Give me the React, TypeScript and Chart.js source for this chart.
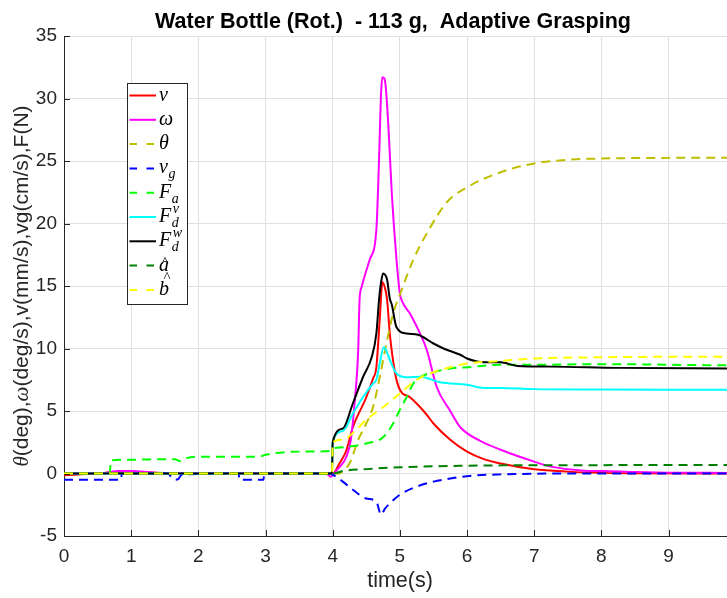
import React, { useEffect, useRef } from 'react';
import { Chart, registerables } from 'chart.js';

Chart.register(...registerables);

// ---------------- data ----------------
const TITLE = 'Water Bottle (Rot.)  - 113 g,  Adaptive Grasping';
const X_LABEL = 'time(s)';
const X_MIN = 0;
const X_MAX = 9.87;
const Y_MIN = -5;
const Y_MAX = 35;
const X_STEP = 1;
const Y_STEP = 5;

const SERIES_NAMES = ['v', 'ω', 'θ', 'v_g', 'F_a', 'F_d^v', 'F_d^w', 'a\u0302', 'b\u0302'];

const tV = [0, 0.3, 0.6, 0.9, 1.2, 1.5, 3.95, 4.0, 4.1, 4.2, 4.3, 4.5, 4.6, 4.65, 4.7, 4.74, 4.78, 4.81, 4.85, 4.93, 5.0, 5.15, 5.25, 5.4, 5.5, 5.75, 6.0, 6.25, 6.5, 7.0, 7.5, 8.0, 8.5, 9.87];
const yV = [-0.15, -0.05, 0.05, 0.15, 0.1, 0.05, 0.0, 0.0, 0.8, 1.8, 3.7, 6.1, 7.6, 8.5, 12.3, 15.3, 14.8, 13.9, 11.2, 8.0, 6.7, 6.1, 5.6, 4.7, 4.0, 2.7, 1.75, 1.15, 0.8, 0.34, 0.15, 0.05, 0.02, 0.0];

const tW = [0, 0.6, 0.8, 1.0, 1.2, 1.4, 3.9, 3.97, 4.05, 4.1, 4.2, 4.27, 4.33, 4.38, 4.40, 4.43, 4.55, 4.65, 4.69, 4.72, 4.74, 4.77, 4.79, 4.83, 4.88, 4.95, 5.0, 5.05, 5.15, 5.2, 5.3, 5.4, 5.55, 5.75, 5.9, 6.2, 6.5, 7.0, 7.25, 7.75, 8.0, 8.5, 9.0, 9.87];
const yW = [0, 0.05, 0.2, 0.2, 0.15, 0.05, 0, -0.25, 0.2, 0.5, 1.3, 2.7, 5.9, 9.9, 13.9, 14.9, 17.1, 19.5, 25.1, 30.4, 31.7, 31.6, 30.9, 27.7, 22.4, 17.1, 14.4, 13.6, 12.8, 12.3, 11.2, 9.9, 6.9, 5.0, 3.7, 2.6, 1.9, 0.95, 0.55, 0.22, 0.2, 0.12, 0.07, 0.05];

const tTheta = [0, 4.1, 4.15, 4.25, 4.38, 4.5, 4.6, 4.7, 4.8, 4.9, 5.0, 5.2, 5.4, 5.7, 6.0, 6.5, 7.0, 7.5, 8.0, 9.0, 9.87];
const yTheta = [0, 0, 0.2, 0.8, 2.7, 4.0, 5.3, 7.7, 10.4, 12.8, 14.3, 17.1, 19.2, 21.7, 22.9, 24.1, 24.8, 25.1, 25.2, 25.25, 25.27];

const tVg = [0, 0.85, 0.86, 1.55, 1.6, 1.65, 1.7, 1.75, 2.6, 2.61, 2.97, 2.98, 3.95, 4.0, 4.15, 4.3, 4.5, 4.65, 4.72, 4.78, 4.85, 5.0, 5.25, 5.5, 5.75, 6.1, 6.5, 7.0, 7.5, 9.87];
const yVg = [-0.5, -0.5, 0, 0, -0.3, -0.5, -0.45, -0.1, 0, -0.5, -0.5, 0, 0, -0.1, -0.65, -1.3, -2.0, -2.25, -3.3, -2.8, -2.4, -1.7, -1.05, -0.65, -0.4, -0.17, -0.07, -0.02, 0, 0];

const tFa = [0, 0.68, 0.70, 1.0, 1.5, 1.65, 1.72, 1.8, 2.0, 2.9, 3.0, 3.1, 3.5, 3.95, 4.0, 4.15, 4.5, 4.75, 4.9, 5.0, 5.1, 5.2, 5.3, 5.5, 5.75, 6.0, 6.5, 7.0, 8.0, 9.0, 9.87];
const yFa = [0, 0, 1.05, 1.1, 1.15, 1.15, 1.0, 1.2, 1.35, 1.35, 1.5, 1.6, 1.75, 1.8, 2.0, 2.1, 2.4, 2.9, 4.0, 5.1, 6.1, 7.2, 7.7, 8.1, 8.4, 8.5, 8.7, 8.7, 8.75, 8.7, 8.65];

const tFdv = [0, 3.99, 4.0, 4.15, 4.3, 4.45, 4.6, 4.65, 4.7, 4.76, 4.8, 4.85, 4.95, 5.1, 5.3, 5.6, 6.0, 6.25, 6.5, 7.0, 8.0, 9.87];
const yFdv = [0, 0, 2.5, 3.4, 4.8, 6.1, 7.2, 7.5, 8.8, 10.1, 9.8, 9.1, 8.0, 7.7, 7.75, 7.3, 7.1, 6.85, 6.85, 6.75, 6.72, 6.7];

const tFdw = [0, 3.99, 4.0, 4.15, 4.3, 4.45, 4.58, 4.65, 4.69, 4.72, 4.75, 4.78, 4.81, 4.85, 4.88, 4.95, 5.1, 5.27, 5.5, 5.65, 5.75, 5.9, 6.0, 6.25, 6.5, 6.75, 7.25, 8.25, 9.87];
const yFdw = [0, 0, 2.5, 3.6, 5.6, 7.7, 9.3, 11.2, 13.9, 15.3, 16.0, 15.9, 15.5, 14.0, 13.5, 11.7, 11.2, 11.1, 10.4, 10.0, 9.8, 9.5, 9.2, 8.9, 8.9, 8.6, 8.55, 8.45, 8.4];

const tA = [0, 4.0, 4.15, 4.5, 5.0, 5.5, 6.0, 6.5, 7.0, 9.87];
const yA = [0, 0, 0.2, 0.35, 0.5, 0.58, 0.62, 0.65, 0.66, 0.68];

const tB = [0, 3.99, 4.0, 4.15, 4.35, 4.5, 4.75, 5.0, 5.25, 5.5, 5.75, 6.0, 6.5, 7.0, 8.0, 9.87];
const yB = [0, 0, 2.5, 2.7, 3.5, 4.3, 5.3, 6.4, 7.5, 8.1, 8.5, 8.8, 9.0, 9.2, 9.3, 9.35];

// ---------------- styles ----------------
const AXIS_COLOR = '#262626';
const GRID_COLOR = '#e0e0e0';
const SANS = '"Liberation Sans", Arial, Helvetica, sans-serif';
const SERIF = '"Liberation Serif", "DejaVu Serif", serif';
const DASH = [9, 6];

const SERIES_STYLE = [
  { color: '#ff0000', dash: [] as number[] },
  { color: '#ff00ff', dash: [] as number[] },
  { color: '#bfbf00', dash: DASH },
  { color: '#0000ff', dash: DASH },
  { color: '#00ff00', dash: DASH },
  { color: '#00ffff', dash: [] as number[] },
  { color: '#000000', dash: [] as number[] },
  { color: '#008000', dash: DASH },
  { color: '#ffff00', dash: DASH },
];

const SERIES_DATA: [number[], number[]][] = [
  [tV, yV], [tW, yW], [tTheta, yTheta], [tVg, yVg], [tFa, yFa],
  [tFdv, yFdv], [tFdw, yFdw], [tA, yA], [tB, yB],
];

function drawMath(ctx: CanvasRenderingContext2D, label: string, x: number, y: number) {
  const m = label.match(/^([^_^]+)(?:_([^_^]+))?(?:\^(.+))?$/);
  let base = m ? m[1] : label;
  const sub = m ? m[2] : undefined;
  const sup = m ? m[3] : undefined;
  let hat = false;
  if (base.indexOf('\u0302') >= 0) { hat = true; base = base.replace('\u0302', ''); }
  ctx.font = `italic 20px ${SERIF}`;
  ctx.textAlign = 'left';
  ctx.textBaseline = 'alphabetic';
  ctx.fillStyle = '#000';
  ctx.fillText(base, x, y);
  const w = ctx.measureText(base).width;
  if (hat) {
    const tall = base === 'b';
    ctx.font = `15px ${SERIF}`;
    ctx.textAlign = 'center';
    ctx.fillText('^', x + w / 2 + (tall ? 3 : 1), y - (tall ? 13 : 4));
    ctx.textAlign = 'left';
  }
  ctx.font = `italic 14px ${SERIF}`;
  if (sub) ctx.fillText(sub, x + w + 0.5, y + 5);
  if (sup) ctx.fillText(sup, x + w + 1.5, y - 9);
}

const decorPlugin = {
  id: 'decor',
  afterDraw(chart: any) {
    const ctx: CanvasRenderingContext2D = chart.ctx;
    const { left, bottom, top } = chart.chartArea;
    const xs = chart.scales.x;
    const ys = chart.scales.y;
    ctx.save();
    // inward tick marks
    ctx.strokeStyle = AXIS_COLOR;
    ctx.lineWidth = 1;
    ctx.setLineDash([]);
    ctx.beginPath();
    xs.ticks.forEach((t: any) => {
      const px = Math.round(xs.getPixelForValue(t.value)) + 0.5;
      ctx.moveTo(px, bottom);
      ctx.lineTo(px, bottom - 6);
    });
    ys.ticks.forEach((t: any) => {
      const py = Math.round(ys.getPixelForValue(t.value)) + 0.5;
      ctx.moveTo(left, py);
      ctx.lineTo(left + 6, py);
    });
    ctx.stroke();

    // title
    ctx.fillStyle = '#000';
    ctx.font = `bold 21.5px ${SANS}`;
    ctx.textAlign = 'center';
    ctx.textBaseline = 'alphabetic';
    ctx.fillText(TITLE, 393, 28);

    // x label
    ctx.fillStyle = AXIS_COLOR;
    ctx.font = `21.5px ${SANS}`;
    ctx.fillText(X_LABEL, 400, 587);

    // y label (mixed fonts)
    const segs = [
      { t: 'θ', f: `italic 21px ${SERIF}` },
      { t: '(deg),', f: `21px ${SANS}` },
      { t: 'ω', f: `italic 21px ${SERIF}` },
      { t: '(deg/s),v(mm/s),vg(cm/s),F(N)', f: `21px ${SANS}` },
    ];
    let total = 0;
    segs.forEach((s) => { ctx.font = s.f; total += ctx.measureText(s.t).width; });
    ctx.translate(28, (top + bottom) / 2);
    ctx.rotate(-Math.PI / 2);
    ctx.textAlign = 'left';
    let cx = -total / 2;
    segs.forEach((s) => { ctx.font = s.f; ctx.fillText(s.t, cx, 0); cx += ctx.measureText(s.t).width; });
    ctx.setTransform(1, 0, 0, 1, 0, 0);

    // legend
    const bx = 127.5, by = 83.5, bw = 60, bh = 221;
    ctx.fillStyle = '#ffffff';
    ctx.fillRect(bx, by, bw, bh);
    ctx.strokeStyle = AXIS_COLOR;
    ctx.lineWidth = 1;
    ctx.strokeRect(bx, by, bw, bh);
    SERIES_NAMES.forEach((name, i) => {
      const yy = 95.5 + i * 24.3;
      const st = SERIES_STYLE[i];
      ctx.strokeStyle = st.color;
      ctx.lineWidth = 2;
      ctx.setLineDash(st.dash.length ? [7.5, 9.5] : []);
      ctx.beginPath();
      ctx.moveTo(129.5, yy);
      ctx.lineTo(156, yy);
      ctx.stroke();
      ctx.setLineDash([]);
      drawMath(ctx, name, 159, yy + 5);
    });
    ctx.restore();
  },
};

export default function App() {
  const ref = useRef<HTMLCanvasElement>(null);
  useEffect(() => {
    if (!ref.current) return;
    const datasets = SERIES_DATA.map(([ts, ys], i) => ({
      label: SERIES_NAMES[i],
      data: ts.map((t, k) => ({ x: t, y: ys[k] })),
      borderColor: SERIES_STYLE[i].color,
      backgroundColor: SERIES_STYLE[i].color,
      borderWidth: 2,
      borderDash: SERIES_STYLE[i].dash,
      pointRadius: 0,
      fill: false,
      cubicInterpolationMode: 'monotone' as const,
      order: SERIES_DATA.length - i,
    }));
    const chart = new Chart(ref.current, {
      type: 'line',
      data: { datasets },
      options: {
        responsive: false,
        animation: false,
        layout: { padding: { top: 36, left: 0, right: 0, bottom: 0 } },
        plugins: { legend: { display: false }, title: { display: false }, tooltip: { enabled: false } },
        scales: {
          x: {
            type: 'linear',
            min: X_MIN,
            max: X_MAX,
            afterFit: (s: any) => { s.height = 62; },
            ticks: {
              stepSize: X_STEP,
              includeBounds: false,
              autoSkip: false,
              maxRotation: 0,
              padding: 9,
              color: AXIS_COLOR,
              font: { family: SANS, size: 19 },
            },
            grid: { color: GRID_COLOR, drawTicks: false, lineWidth: 1 },
            border: { display: true, color: AXIS_COLOR, width: 1 },
          },
          y: {
            type: 'linear',
            min: Y_MIN,
            max: Y_MAX,
            afterFit: (s: any) => { s.width = 64; },
            ticks: {
              stepSize: Y_STEP,
              autoSkip: false,
              padding: 7,
              color: AXIS_COLOR,
              font: { family: SANS, size: 19 },
            },
            grid: { color: GRID_COLOR, drawTicks: false, lineWidth: 1 },
            border: { display: true, color: AXIS_COLOR, width: 1 },
          },
        },
      },
      plugins: [decorPlugin],
    });
    return () => chart.destroy();
  }, []);
  return (
    <div style={{ position: 'absolute', left: 0, top: 0, width: 727, height: 598, background: '#fff' }}>
      <canvas ref={ref} width={727} height={598} style={{ display: 'block' }} />
    </div>
  );
}
